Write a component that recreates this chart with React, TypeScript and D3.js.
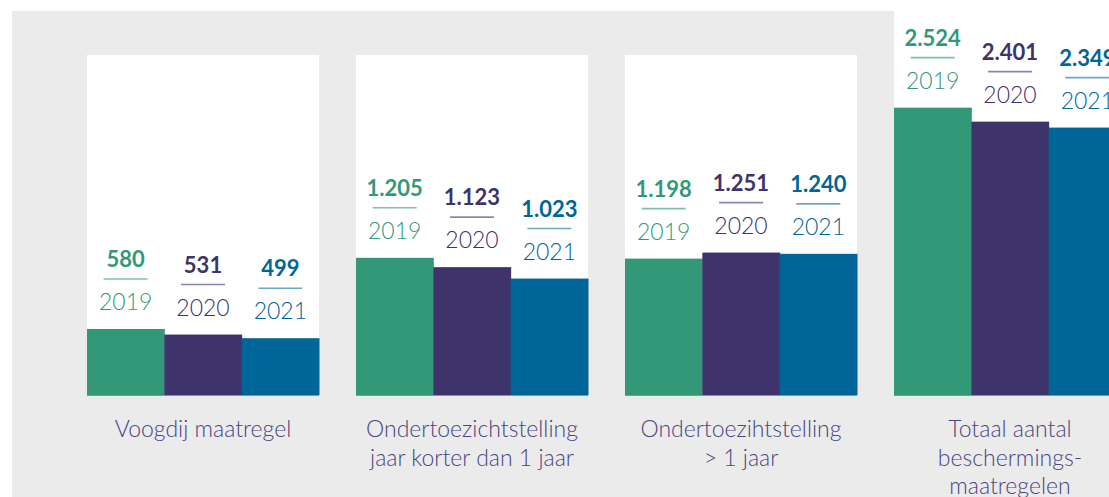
import React from "react";
import * as d3 from "d3";

const categories = [
  ["Voogdij maatregel"],
  ["Ondertoezichtstelling", "jaar korter dan 1 jaar"],
  ["Ondertoezihtstelling", "> 1 jaar"],
  ["Totaal aantal", "beschermings-", "maatregelen"],
];
const years = ["2019", "2020", "2021"];
const values2019 = [580, 1205, 1198, 2524];
const values2020 = [531, 1123, 1251, 2401];
const values2021 = [499, 1023, 1240, 2349];
const seriesColors = ["#339878", "#3e336a", "#006598"];
const lineColors = ["#7dc2aa", "#8c85b0", "#6ea7c6"];

const W = 1109;
const H = 497;
const FONT = "Lato, 'Open Sans', sans-serif";

const fmt = (v: number) => d3.format(",")(v).replace(/,/g, ".");

export default function App() {
  const series = [values2019, values2020, values2021];
  const catKeys = categories.map((c) => c.join(" "));
  const x0 = d3
    .scaleBand<string>()
    .domain(catKeys)
    .range([87, 1126])
    .paddingInner(37 / 269)
    .paddingOuter(0);
  const x1 = d3.scaleBand<string>().domain(years).range([0, x0.bandwidth()]).padding(0);
  const y = d3.scaleLinear().domain([0, 2600]).range([395, 99]);

  return (
    <div style={{ position: "fixed", left: 0, top: 0 }}>
      <svg width={W} height={H} style={{ display: "block", background: "#fff" }}>
        <rect x={12} y={11} width={W - 12} height={H - 11} fill="#ebebeb" />
        {catKeys.map((key, ci) => {
          const gx = x0(key)!;
          const lines = categories[ci];
          return (
            <g key={key}>
              {ci < 3 && (
                <rect x={gx} y={55} width={x0.bandwidth()} height={395 - 55} fill="#fff" />
              )}
              {ci === 3 && (
                <rect x={gx} y={0} width={W - gx} height={395} fill="#fff" />
              )}
              {years.map((yr, si) => {
                const v = series[si][ci];
                const bx = gx + x1(yr)!;
                const bw = x1.bandwidth();
                const top = y(v);
                const cx = bx + bw / 2;
                return (
                  <g key={yr}>
                    <rect x={bx} y={top} width={bw + 0.5} height={395 - top} fill={seriesColors[si]} />
                    <text
                      x={cx}
                      y={top - 62}
                      textAnchor="middle"
                      fontFamily={FONT}
                      fontWeight={700}
                      fontSize={22}
                      fill={seriesColors[si]}
                    >
                      {fmt(v)}
                    </text>
                    <line
                      x1={cx - 22}
                      x2={cx + 22}
                      y1={top - 50}
                      y2={top - 50}
                      stroke={lineColors[si]}
                      strokeWidth={1.6}
                    />
                    <text
                      x={cx}
                      y={top - 19}
                      textAnchor="middle"
                      fontFamily={FONT}
                      fontWeight={300}
                      fontSize={23}
                      fill={seriesColors[si]}
                    >
                      {yr}
                    </text>
                  </g>
                );
              })}
              <line
                x1={gx}
                x2={gx + x0.bandwidth()}
                y1={395.5}
                y2={395.5}
                stroke="#6a6290"
                strokeOpacity={0.7}
                strokeWidth={1}
              />
              <text
                x={gx + x0.bandwidth() / 2}
                textAnchor="middle"
                fontFamily={FONT}
                fontWeight={300}
                fontSize={23}
                fill="#4a4480"
              >
                {lines.map((l, li) => (
                  <tspan key={li} x={gx + x0.bandwidth() / 2} y={437 + li * 28.5}>
                    {l}
                  </tspan>
                ))}
              </text>
            </g>
          );
        })}
      </svg>
    </div>
  );
}
